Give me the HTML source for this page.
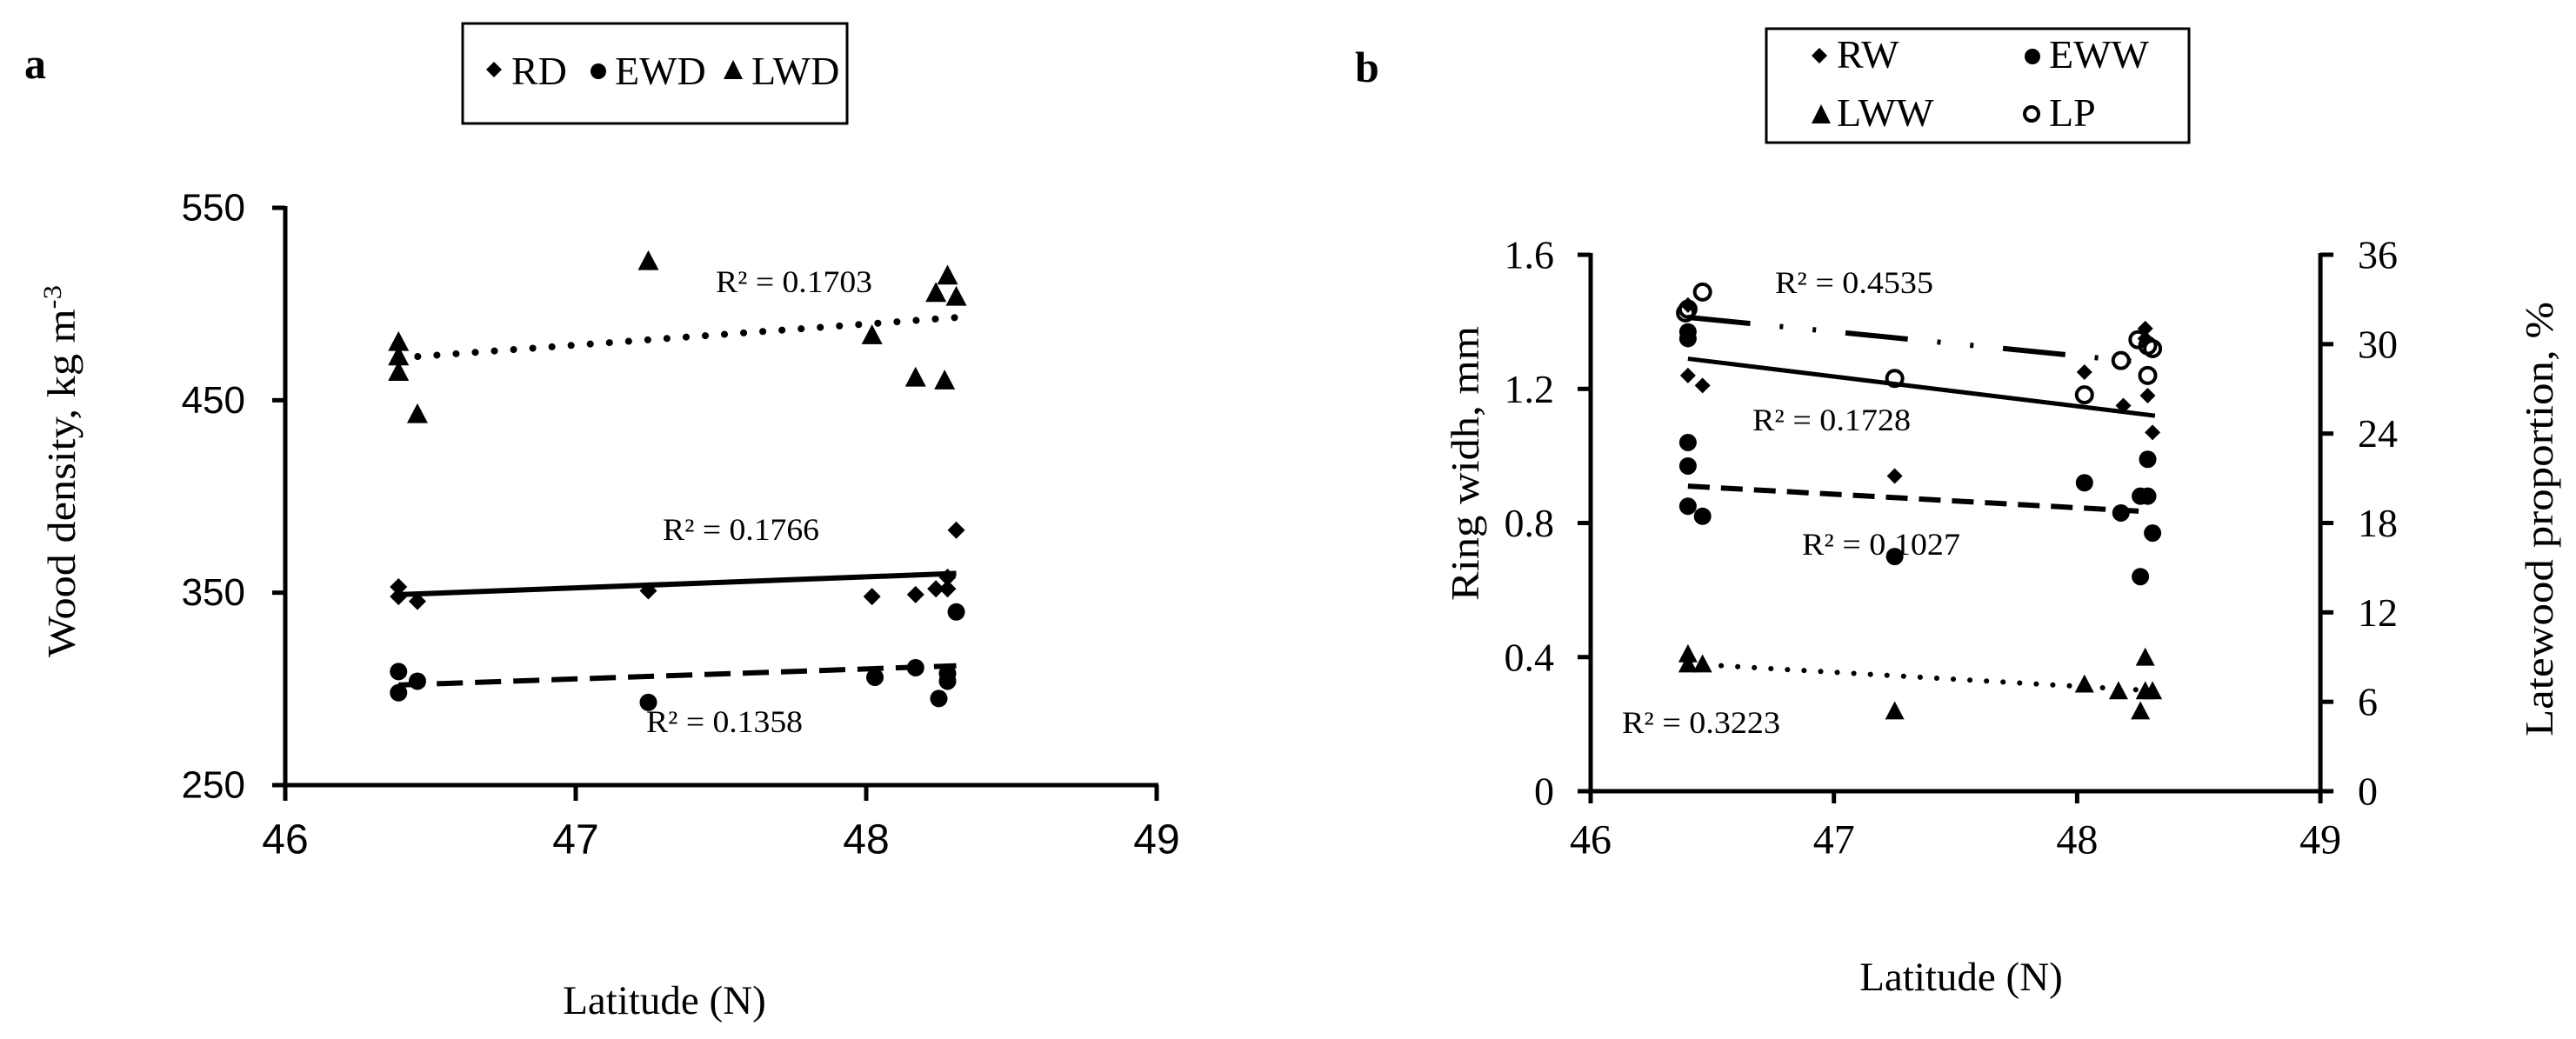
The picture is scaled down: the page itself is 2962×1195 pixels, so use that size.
<!DOCTYPE html>
<html><head><meta charset="utf-8"><style>
html,body{margin:0;padding:0;background:#fff;}
svg{display:block;}
.sans{font-family:"Liberation Sans",sans-serif;}
.serif{font-family:"Liberation Serif",serif;}
</style></head><body>
<svg id="fig" width="2962" height="1195" viewBox="0 0 2962 1195" xmlns="http://www.w3.org/2000/svg">
<text x="28" y="90" class="serif" font-size="50" font-weight="bold">a</text>
<text x="1558" y="94" class="serif" font-size="50" font-weight="bold">b</text>
<g>
<rect x="532" y="27" width="442" height="115" fill="none" stroke="#000" stroke-width="3"/>
<path d="M568 71 L577 80 L568 89 L559 80Z" fill="#000"/>
<text x="588" y="97" class="serif" font-size="46">RD</text>
<circle cx="688" cy="82" r="9" fill="#000"/>
<text x="707" y="97" class="serif" font-size="46">EWD</text>
<path d="M843 69 L854 91 L832 91Z" fill="#000"/>
<text x="864" y="97" class="serif" font-size="46">LWD</text>
</g>
<g>
<rect x="2031" y="33" width="486" height="131" fill="none" stroke="#000" stroke-width="3"/>
<path d="M2092 55 L2101 64 L2092 73 L2083 64Z" fill="#000"/>
<text x="2112" y="78" class="serif" font-size="46">RW</text>
<circle cx="2337" cy="65" r="9" fill="#000"/>
<text x="2356" y="78" class="serif" font-size="46">EWW</text>
<path d="M2094 120 L2105 142 L2083 142Z" fill="#000"/>
<text x="2112" y="145" class="serif" font-size="46">LWW</text>
<circle cx="2336" cy="131" r="8" fill="none" stroke="#000" stroke-width="4"/>
<text x="2356" y="145" class="serif" font-size="46">LP</text>
</g>
<text transform="translate(86,542) rotate(-90)" text-anchor="middle" class="serif" font-size="46" textLength="428" lengthAdjust="spacingAndGlyphs">Wood density, kg m<tspan baseline-shift="super" font-size="30">-3</tspan></text>
<text x="764" y="1166" text-anchor="middle" class="serif" font-size="47">Latitude (N)</text>
<text transform="translate(1700,533) rotate(-90)" text-anchor="middle" class="serif" font-size="46" textLength="316" lengthAdjust="spacingAndGlyphs">Ring widh, mm</text>
<text transform="translate(2935,597) rotate(-90)" text-anchor="middle" class="serif" font-size="46" textLength="500" lengthAdjust="spacingAndGlyphs">Latewood proportion, %</text>
<text x="2255" y="1139" text-anchor="middle" class="serif" font-size="47">Latitude (N)</text>
<text x="823" y="336" class="serif" font-size="36" textLength="180" lengthAdjust="spacingAndGlyphs">R² = 0.1703</text>
<text x="762" y="621" class="serif" font-size="36" textLength="180" lengthAdjust="spacingAndGlyphs">R² = 0.1766</text>
<text x="743" y="842" class="serif" font-size="36" textLength="180" lengthAdjust="spacingAndGlyphs">R² = 0.1358</text>
<text x="2041" y="337" class="serif" font-size="36" textLength="182" lengthAdjust="spacingAndGlyphs">R² = 0.4535</text>
<text x="2015" y="495" class="serif" font-size="36" textLength="182" lengthAdjust="spacingAndGlyphs">R² = 0.1728</text>
<text x="2072" y="638" class="serif" font-size="36" textLength="182" lengthAdjust="spacingAndGlyphs">R² = 0.1027</text>
<text x="1865" y="843" class="serif" font-size="36" textLength="182" lengthAdjust="spacingAndGlyphs">R² = 0.3223</text>
<g id="plots"></g>
</svg>
<script>
const xTicksA = [46, 47, 48, 49];
const yTicksA = [250, 350, 450, 550];
const rdLat = [46.39, 46.39, 46.455, 47.25, 48.02, 48.17, 48.24, 48.28, 48.28, 48.31];
const rdVal = [353, 348, 345.5, 351, 348, 349, 352, 358, 352, 382.5];
const ewdLat = [46.39, 46.39, 46.455, 47.25, 48.03, 48.17, 48.25, 48.28, 48.28, 48.31];
const ewdVal = [309, 298, 304, 293, 306, 311, 295, 304, 308, 340];
const lwdLat = [46.39, 46.39, 46.39, 46.455, 47.25, 48.02, 48.17, 48.27, 48.24, 48.28, 48.31];
const lwdVal = [480.5, 473, 465, 443, 522.5, 484, 462, 460.5, 506, 515, 504];
const trendLatA = [46.39, 48.31];
const rdTrend = [349, 360];
const ewdTrend = [302, 312];
const lwdTrend = [472, 493];
const xTicksB = [46, 47, 48, 49];
const yTicksB = [0, 0.4, 0.8, 1.2, 1.6];
const yTickLabelsB = ["0", "0.4", "0.8", "1.2", "1.6"];
const y2TicksB = [0, 6, 12, 18, 24, 30, 36];
const rwLat = [46.4, 46.46, 47.25, 48.03, 48.19, 48.28, 48.28, 48.29, 48.31, 46.4];
const rwVal = [1.24, 1.21, 0.94, 1.25, 1.15, 1.38, 1.35, 1.18, 1.07, 1.45];
const ewwLat = [46.4, 46.4, 46.4, 46.4, 46.4, 46.46, 47.25, 48.03, 48.18, 48.26, 48.29, 48.29, 48.26, 48.31];
const ewwVal = [1.35, 1.37, 1.04, 0.97, 0.85, 0.82, 0.70, 0.92, 0.83, 0.88, 0.88, 0.99, 0.64, 0.77];
const lwwLat = [46.4, 46.4, 46.46, 47.25, 48.03, 48.17, 48.26, 48.28, 48.31, 48.28];
const lwwVal = [0.41, 0.38, 0.38, 0.24, 0.32, 0.30, 0.24, 0.40, 0.30, 0.30];
const lpLat = [46.4, 46.46, 46.39, 47.25, 48.03, 48.18, 48.25, 48.29, 48.31, 48.29];
const lpVal = [32.35, 33.5, 32.1, 27.7, 26.6, 28.9, 30.3, 29.9, 29.7, 27.9];
const rwTrendLat = [46.4, 48.32];
const rwTrend = [1.29, 1.12];
const ewwTrendLat = [46.4, 48.26];
const ewwTrend = [0.91, 0.835];
const lwwTrendLat = [46.4, 48.31];
const lwwTrend = [0.38, 0.30];
const lpTrendLat = [46.4, 48.26];
const lpTrend = [31.8, 28.8];

const NS = "http://www.w3.org/2000/svg";
const root = document.getElementById("plots");
function mk(tag, attrs, parent) {
  const e = document.createElementNS(NS, tag);
  for (const k in attrs) e.setAttribute(k, attrs[k]);
  (parent || root).appendChild(e);
  return e;
}
const xA = v => 328 + (v - 46) * 334;
const yA = v => 903 - (v - 250) * 2.2133;
const xB = v => 1829 + (v - 46) * 279.7;
const yB = v => 910 - v * 385.6;
const yB2 = p => 910 - p * 17.139;

function diamond(cx, cy, s, name) {
  const e = mk("path", {d: `M${cx} ${cy-s} L${cx+s} ${cy} L${cx} ${cy+s} L${cx-s} ${cy}Z`, fill: "#000"});
  
  
}
function dot(cx, cy, r, name) {
  const e = mk("circle", {cx: cx, cy: cy, r: r, fill: "#000"});
  
  
}
function ring(cx, cy, r, name) {
  const e = mk("circle", {cx: cx, cy: cy, r: r, fill: "#fff", "fill-opacity": "0", stroke: "#000", "stroke-width": 4});
  
  
}
function tri(cx, cy, s, name) {
  const e = mk("path", {d: `M${cx} ${cy-s} L${cx+s} ${cy+s*0.9} L${cx-s} ${cy+s*0.9}Z`, fill: "#000"});
  
  
}
function line(x1, y1, x2, y2, w, dash, name, cap) {
  const a = {x1: x1, y1: y1, x2: x2, y2: y2, stroke: "#000", "stroke-width": w};
  if (dash) a["stroke-dasharray"] = dash;
  if (cap) a["stroke-linecap"] = cap;
  const e = mk("line", a);
  
  
}
function label(x, y, txt, anchor, cls, size, name) {
  const e = mk("text", {x: x, y: y, "text-anchor": anchor, class: cls, "font-size": size, "dominant-baseline": "central"});
  e.textContent = txt;
  
  
}

line(xA(46), yA(550) - 2, xA(46), yA(250) + 2, 5, null, "y-axis-a");
line(xA(46) - 15, yA(250), xA(49) + 2, yA(250), 5, null, "x-axis-a");
yTicksA.forEach(v => {
  line(xA(46) - 15, yA(v), xA(46), yA(v), 5, null, "y-tick-a");
  label(282, yA(v), String(v), "end", "sans", 44, "y-tick-label-a");
});
xTicksA.forEach(v => {
  line(xA(v), yA(250), xA(v), yA(250) + 18, 5, null, "x-tick-a");
  label(xA(v), 966, String(v), "middle", "sans", 48, "x-tick-label-a");
});
line(xA(trendLatA[0]), yA(lwdTrend[0]), xA(trendLatA[1]), yA(lwdTrend[1]), 8, "0.1 22", "trend-lwd", "round");
line(xA(trendLatA[0]), yA(rdTrend[0]), xA(trendLatA[1]), yA(rdTrend[1]), 6, null, "trend-rd");
line(xA(trendLatA[0]), yA(ewdTrend[0]), xA(trendLatA[1]), yA(ewdTrend[1]), 6, "30 14", "trend-ewd");
rdLat.forEach((l, i) => diamond(xA(l), yA(rdVal[i]), 10, "rd-point"));
ewdLat.forEach((l, i) => dot(xA(l), yA(ewdVal[i]), 10, "ewd-point"));
lwdLat.forEach((l, i) => tri(xA(l), yA(lwdVal[i]), 12, "lwd-point"));

line(xB(46), yB(1.6) - 2, xB(46), yB(0) + 2, 5, null, "y-axis-b-left");
line(xB(49), yB(1.6) - 2, xB(49), yB(0) + 2, 5, null, "y-axis-b-right");
line(xB(46) - 15, yB(0), xB(49) + 15, yB(0), 5, null, "x-axis-b");
yTicksB.forEach((v, i) => {
  line(xB(46) - 15, yB(v), xB(46), yB(v), 5, null, "y-tick-b");
  label(1787, yB(v), yTickLabelsB[i], "end", "serif", 46, "y-tick-label-b");
});
y2TicksB.forEach(v => {
  line(xB(49), yB2(v), xB(49) + 15, yB2(v), 5, null, "y2-tick-b");
  label(2711, yB2(v), String(v), "start", "serif", 46, "y2-tick-label-b");
});
xTicksB.forEach(v => {
  line(xB(v), yB(0), xB(v), yB(0) + 14, 5, null, "x-tick-b");
  label(xB(v), 966, String(v), "middle", "serif", 48, "x-tick-label-b");
});
line(xB(lpTrendLat[0]), yB2(lpTrend[0]), xB(lpTrendLat[1]), yB2(lpTrend[1]), 6, "72 34 4 34 4 34", "trend-lp");
line(xB(rwTrendLat[0]), yB(rwTrend[0]), xB(rwTrendLat[1]), yB(rwTrend[1]), 5, null, "trend-rw");
line(xB(ewwTrendLat[0]), yB(ewwTrend[0]), xB(ewwTrendLat[1]), yB(ewwTrend[1]), 6, "25 13", "trend-eww");
line(xB(lwwTrendLat[0]), yB(lwwTrend[0]), xB(lwwTrendLat[1]), yB(lwwTrend[1]), 6, "0.1 19", "trend-lww", "round");
rwLat.forEach((l, i) => diamond(xB(l), yB(rwVal[i]), 9, "rw-point"));
ewwLat.forEach((l, i) => dot(xB(l), yB(ewwVal[i]), 10, "eww-point"));
lwwLat.forEach((l, i) => tri(xB(l), yB(lwwVal[i]), 11, "lww-point"));
lpLat.forEach((l, i) => ring(xB(l), yB2(lpVal[i]), 9, "lp-point"));
</script>
</body></html>
